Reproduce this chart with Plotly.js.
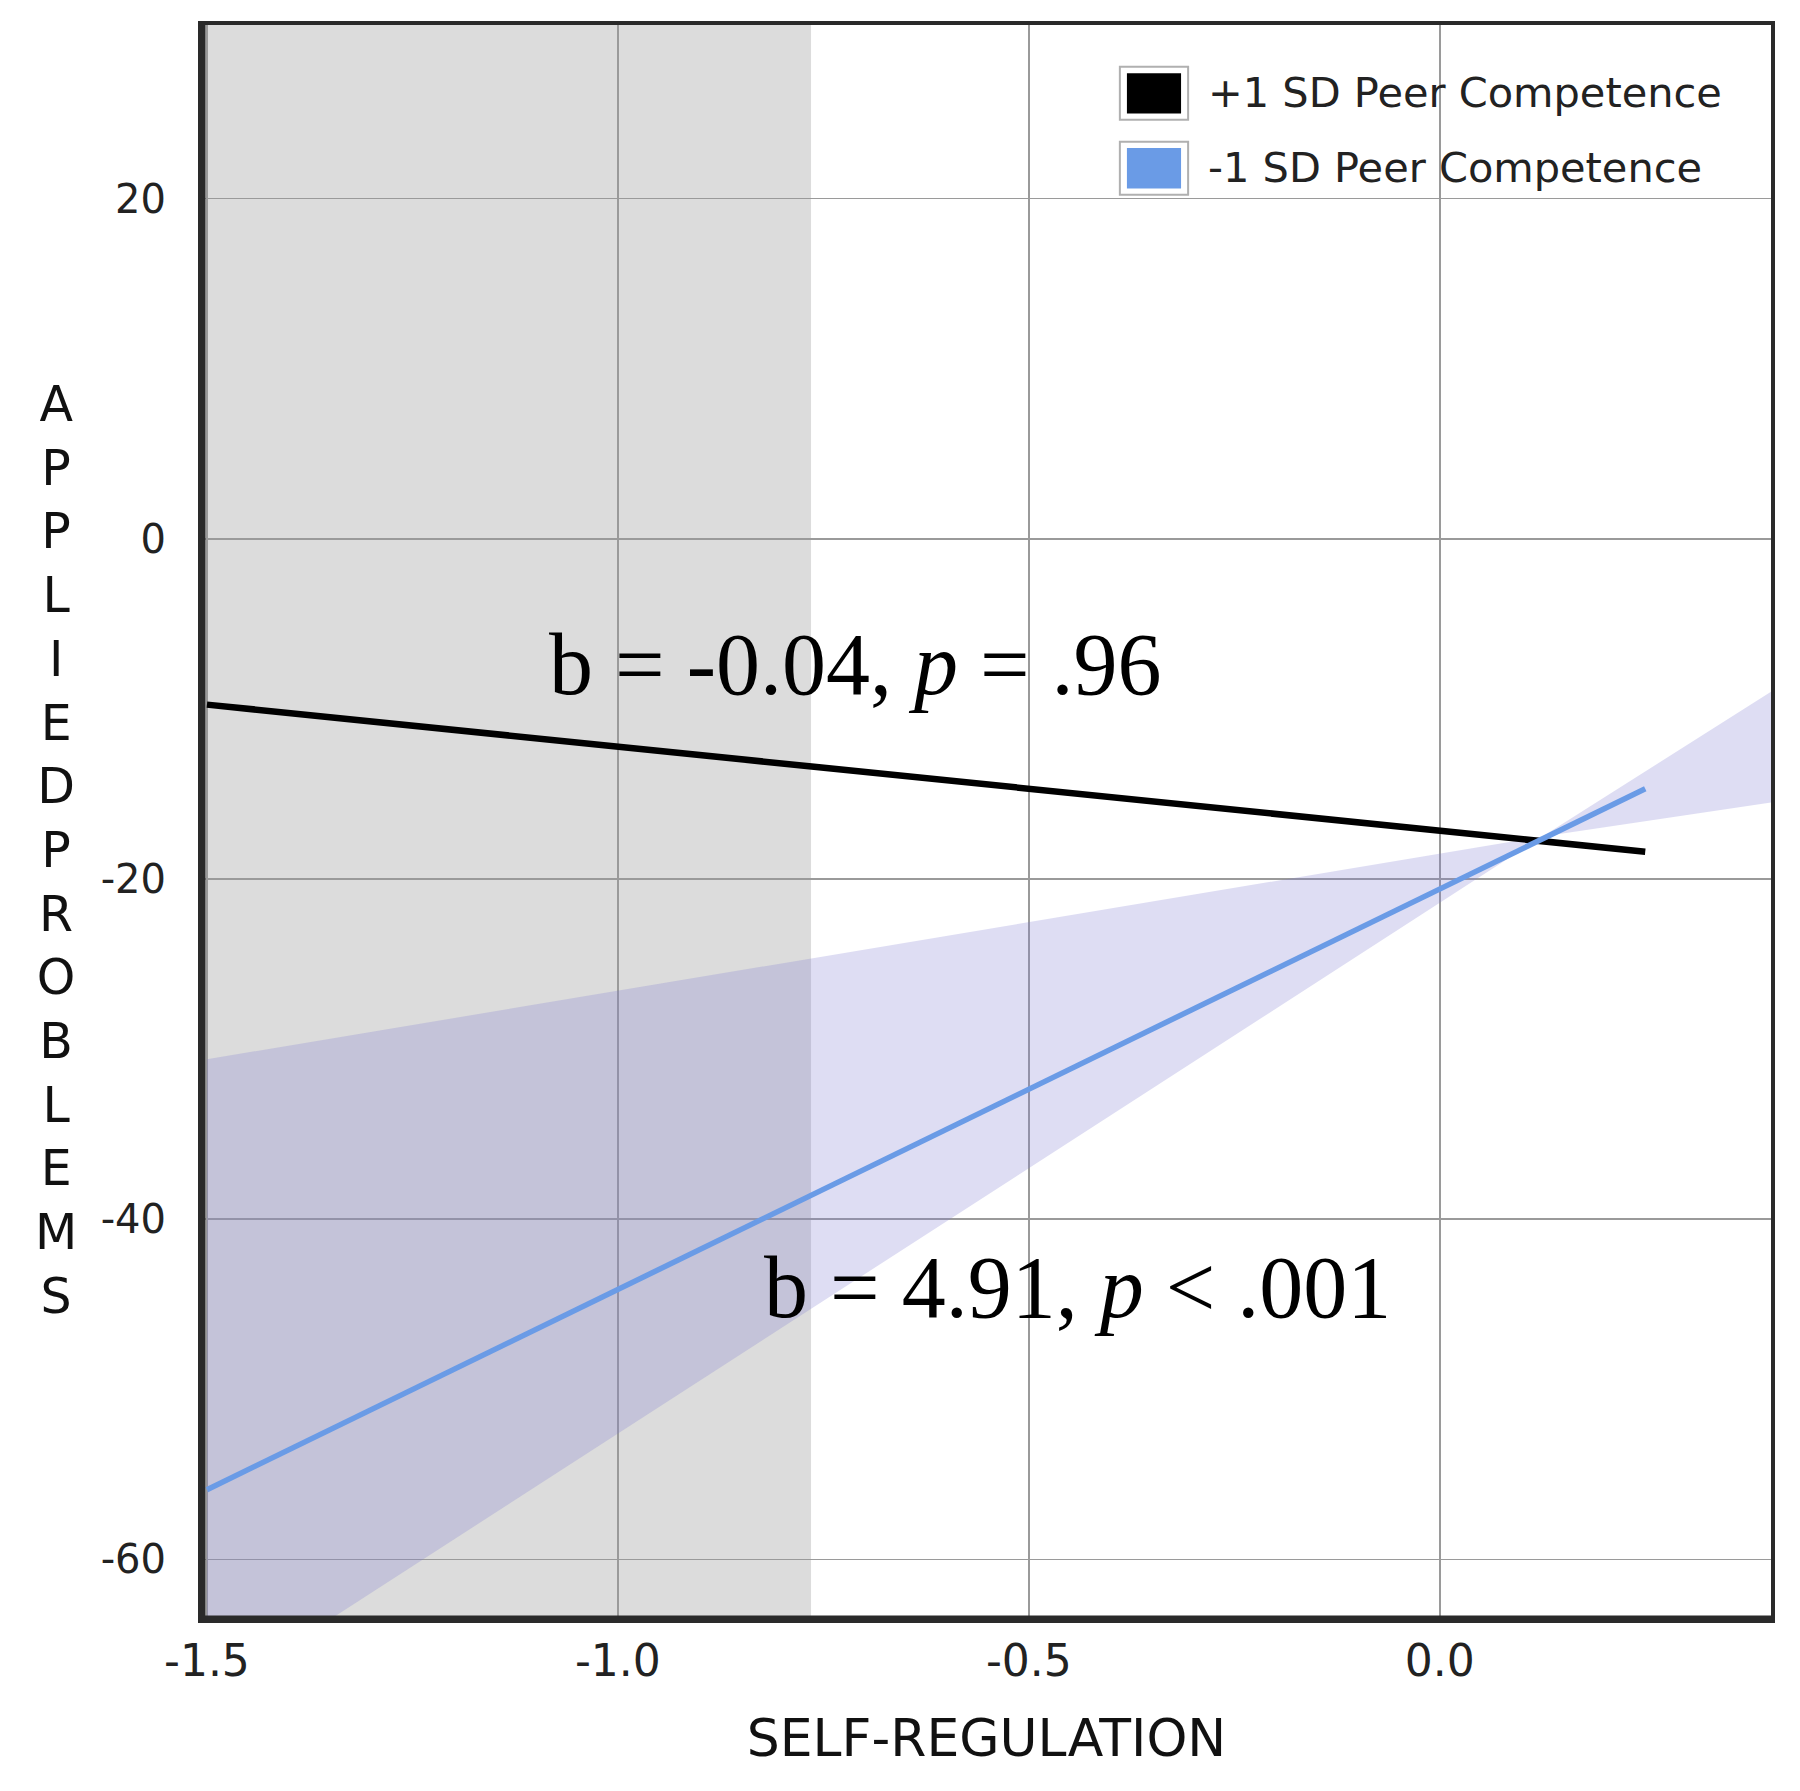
<!DOCTYPE html>
<html>
<head>
<meta charset="utf-8">
<script src="https://cdn.plot.ly/plotly-3.0.1.min.js"></script>
<style>html,body{margin:0;padding:0;background:#fff;}#chart{width:1800px;height:1791px;}</style>
</head>
<body>
<div id="chart"></div>
<script>
// ---- data ----
const seriesNames = ["+1 SD Peer Competence", "-1 SD Peer Competence"];
const selfRegulation = [-1.5, 0.25];
const plusOneSD = [-9.75, -18.4];
const minusOneSD = [-55.9, -14.7];
const bandX = [-1.5, 0.125, 0.403];
const bandBoundA = [-30.6, -17.5, -15.5];
const bandBoundB = [-68.2, -17.5, -9.0];
const significanceRegion = [-1.506, -0.765];
const xTicks = [-1.5, -1.0, -0.5, 0.0];
const xTickLabels = ["-1.5", "-1.0", "-0.5", "0.0"];
const yTicks = [20, 0, -20, -40, -60];
const yTickLabels = ["20", "0", "-20", "-40", "-60"];
const slopeLabels = ["b = -0.04, <i>p</i> = .96", "b = 4.91, <i>p</i> &lt; .001"];
const yTitleLetters = "APPLIEDPROBLEMS".split("");
const seriesColors = ["#000000", "#6a9be6"];

const traces = [
  {x: bandX, y: bandBoundA, mode: "lines", line: {width: 0, color: "rgba(0,0,0,0)"}, showlegend: false, hoverinfo: "skip"},
  {x: bandX, y: bandBoundB, mode: "lines", line: {width: 0, color: "rgba(0,0,0,0)"}, fill: "tonexty", fillcolor: "rgba(128,124,209,0.26)", showlegend: false, hoverinfo: "skip"},
  {x: selfRegulation, y: plusOneSD, mode: "lines", name: seriesNames[0], line: {color: seriesColors[0], width: 6.5}, showlegend: false},
  {x: selfRegulation, y: minusOneSD, mode: "lines", name: seriesNames[1], line: {color: seriesColors[1], width: 5.5}, showlegend: false}
];

const font = "DejaVu Sans, Verdana, sans-serif";
const serif = "Liberation Serif, Times New Roman, serif";

const shapes = [
  {type: "rect", layer: "below", xref: "x", yref: "paper", x0: significanceRegion[0], x1: significanceRegion[1], y0: 0, y1: 1, fillcolor: "#dcdcdc", line: {width: 0}},
  // legend swatches
  {type: "rect", xref: "paper", yref: "paper", x0: 0.585, x1: 0.6285, y0: 0.9405, y1: 0.9738, fillcolor: "#ffffff", line: {color: "#b0b0b0", width: 2}},
  {type: "rect", xref: "paper", yref: "paper", x0: 0.5895, x1: 0.6240, y0: 0.9445, y1: 0.9698, fillcolor: seriesColors[0], line: {width: 0}},
  {type: "rect", xref: "paper", yref: "paper", x0: 0.585, x1: 0.6285, y0: 0.8935, y1: 0.9268, fillcolor: "#ffffff", line: {color: "#b0b0b0", width: 2}},
  {type: "rect", xref: "paper", yref: "paper", x0: 0.5895, x1: 0.6240, y0: 0.8975, y1: 0.9228, fillcolor: seriesColors[1], line: {width: 0}},
  // thicker left and bottom frame edges
  {type: "line", xref: "paper", yref: "paper", x0: 0, x1: 0, y0: 0, y1: 1, line: {color: "#2a2a2a", width: 7}},
  {type: "line", xref: "paper", yref: "paper", x0: 0, x1: 1, y0: 0, y1: 0, line: {color: "#2a2a2a", width: 7}}
];

const annotations = [
  {xref: "x", yref: "y", x: -0.711, y: -7.4, text: slopeLabels[0], showarrow: false, font: {family: serif, size: 88, color: "#000"}},
  {xref: "x", yref: "y", x: -0.441, y: -44.0, text: slopeLabels[1], showarrow: false, font: {family: serif, size: 88, color: "#000"}},
  {xref: "paper", yref: "paper", x: 0.640, y: 0.9575, xanchor: "left", yanchor: "middle", text: seriesNames[0], showarrow: false, font: {family: font, size: 41.5, color: "#222"}},
  {xref: "paper", yref: "paper", x: 0.640, y: 0.9105, xanchor: "left", yanchor: "middle", text: seriesNames[1], showarrow: false, font: {family: font, size: 41.5, color: "#222"}},
  {xref: "paper", yref: "paper", x: -0.093, y: 0.482, xanchor: "center", yanchor: "middle", text: yTitleLetters.join("<br>"), showarrow: false, align: "center", font: {family: font, size: 49, color: "#111"}}
];

const layout = {
  width: 1800, height: 1791,
  margin: {l: 202, r: 29, t: 25, b: 172},
  paper_bgcolor: "#ffffff", plot_bgcolor: "#ffffff",
  showlegend: false,
  xaxis: {
    range: [-1.506, 0.403], tickvals: xTicks, ticktext: xTickLabels,
    showgrid: true, gridcolor: "#9a9a9a", gridwidth: 1.5, zeroline: false,
    showline: true, mirror: true, linecolor: "#2a2a2a", linewidth: 4,
    ticks: "", ticklen: 0, tickfont: {family: font, size: 44, color: "#222"},
    title: {text: "SELF-REGULATION", font: {family: font, size: 52, color: "#111"}, standoff: 36}
  },
  yaxis: {
    range: [-63.5, 30.2], tickvals: yTicks, ticktext: yTickLabels,
    showgrid: true, gridcolor: "#9a9a9a", gridwidth: 1.5, zeroline: false,
    showline: true, mirror: true, linecolor: "#2a2a2a", linewidth: 4,
    ticks: "outside", ticklen: 24, tickcolor: "rgba(0,0,0,0)", tickfont: {family: font, size: 40, color: "#222"}
  },
  shapes: shapes,
  annotations: annotations
};

Plotly.newPlot("chart", traces, layout, {staticPlot: true, displayModeBar: false});
</script>
</body>
</html>
